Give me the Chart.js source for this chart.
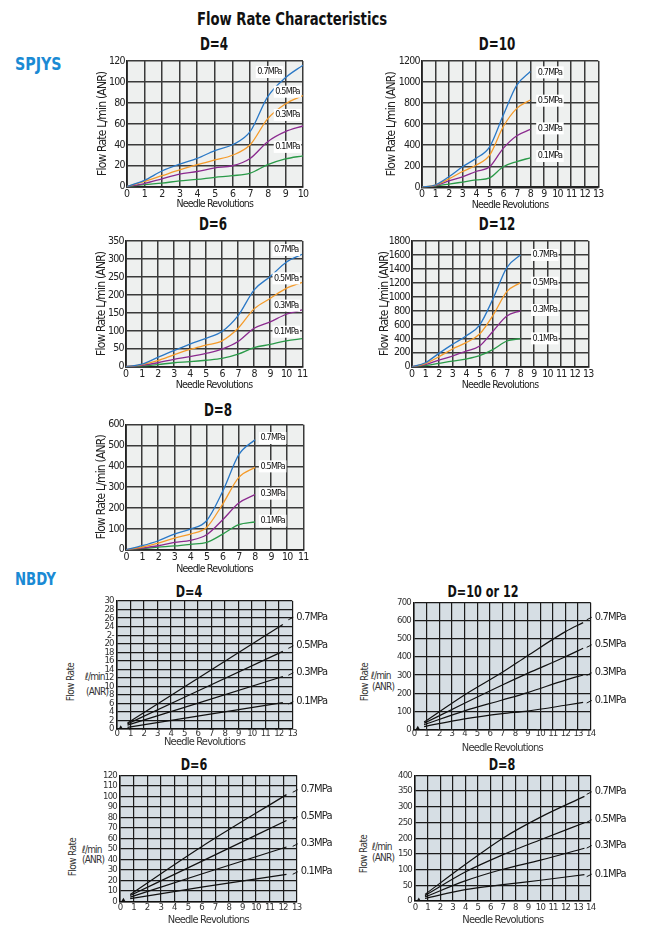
<!DOCTYPE html>
<html><head><meta charset="utf-8">
<script src="https://cdn.jsdelivr.net/npm/chart.js@4.4.0/dist/chart.umd.min.js"></script>
<style>
body{margin:0;width:646px;height:930px;background:#fff;position:relative;overflow:hidden;
 font-family:'Liberation Sans Narrow','DejaVu Sans Condensed','Arial Narrow',sans-serif;}
canvas{position:absolute;}
.c{position:absolute;white-space:nowrap;transform:translate(-50%,-50%) scaleX(0.78);font-weight:bold;color:#111;}
.l{position:absolute;white-space:nowrap;transform-origin:0 50%;font-weight:bold;color:#1a8ad4;font-size:18px;}
.r{position:absolute;white-space:nowrap;transform:translate(-50%,-50%) rotate(-90deg);font-size:10px;color:#333;letter-spacing:-0.6px;}
.u{position:absolute;white-space:nowrap;transform:translate(0,-50%);font-size:10px;color:#333;letter-spacing:-0.8px;}
</style></head><body>
<div class="c" style="left:292px;top:18px;font-size:18px;transform:translate(-50%,-50%) scaleX(0.815);">Flow Rate Characteristics</div>
<div class="l" style="left:15px;top:63px;transform:translate(0,-50%) scaleX(0.88);">SPJYS</div>
<div class="l" style="left:15px;top:578px;transform:translate(0,-50%) scaleX(0.82);">NBDY</div>

<div class="c" style="left:214px;top:44px;font-size:17px;">D=4</div>
<div class="c" style="left:497px;top:44px;font-size:17px;">D=10</div>
<div class="c" style="left:213px;top:224px;font-size:17px;">D=6</div>
<div class="c" style="left:497px;top:224px;font-size:17px;">D=12</div>
<div class="c" style="left:218px;top:410px;font-size:17px;">D=8</div>

<div class="c" style="left:189px;top:591px;font-size:16px;">D=4</div>
<div class="c" style="left:483px;top:591px;font-size:16px;">D=10 or 12</div>
<div class="c" style="left:194px;top:764px;font-size:16px;">D=6</div>
<div class="c" style="left:502px;top:764px;font-size:16px;">D=8</div>

<div class="r" style="left:70px;top:682px;">Flow Rate</div>
<div class="u" style="left:85px;top:676px;">ℓ/min</div>
<div class="u" style="left:86px;top:691px;">(ANR)</div>
<div class="r" style="left:364px;top:682px;">Flow Rate</div>
<div class="u" style="left:371px;top:675px;">ℓ/min</div>
<div class="u" style="left:372px;top:686px;">(ANR)</div>
<div class="r" style="left:72px;top:857px;">Flow Rate</div>
<div class="u" style="left:82px;top:849px;">ℓ/min</div>
<div class="u" style="left:82px;top:859px;">(ANR)</div>
<div class="r" style="left:363px;top:854px;">Flow Rate</div>
<div class="u" style="left:372px;top:846px;">ℓ/min</div>
<div class="u" style="left:372px;top:857px;">(ANR)</div>

<script>
// ---------- DATA ----------
const pressures = ['0.7MPa', '0.5MPa', '0.3MPa', '0.1MPa'];

// SPJYS D=4
const spD4_x   = [0, 1, 2, 3, 4, 5, 6, 7, 8, 9, 10];
const spD4_p07 = [0, 6, 15, 21.5, 27, 34.5, 40, 52.5, 86, 104, 116];
const spD4_p05 = [0, 5, 10.5, 16, 21, 25.5, 30, 40, 65, 79, 87];
const spD4_p03 = [0, 3, 7.5, 12, 14.5, 18, 20, 27, 43, 52.5, 58];
const spD4_p01 = [0, 2, 3.5, 5.5, 7, 9, 10.5, 13, 21, 26.5, 29.5];
const spD4_tagX = [8.1, 9.12, 9.12, 9.12];
const spD4_tagY = [109.5, 90.7, 68.5, 38];

// SPJYS D=10
const spD10_x   = [0, 1, 2, 3, 4, 5, 6, 7, 8];
const spD10_p07 = [0, 22, 100, 195, 275, 385, 685, 970, 1100];
const spD10_p05 = [0, 20, 80, 150, 210, 305, 575, 750, 830];
const spD10_p03 = [0, 15, 60, 100, 150, 195, 370, 490, 550];
const spD10_p01 = [0, 12, 30, 50, 70, 90, 195, 245, 280];
const spD10_tagX = [9.44, 9.44, 9.44, 9.44];
const spD10_tagY = [1092, 823, 560, 297];

// SPJYS D=6
const spD6_x   = [0, 1, 2, 3, 4, 5, 6, 7, 8, 9, 10, 11];
const spD6_p07 = [0, 7, 26, 45, 63, 79, 98, 142, 214, 251, 291, 313];
const spD6_p05 = [0, 6, 17, 33, 48, 60, 72, 107, 161, 190, 218, 235];
const spD6_p03 = [0, 4, 11, 20.5, 28, 37, 49, 70, 107, 125, 146, 158];
const spD6_p01 = [0, 2, 6, 11, 14, 18, 23, 35, 53, 62, 72, 78];
const spD6_tagX = [10, 10, 10, 10];
const spD6_tagY = [325, 246, 170, 97.5];

// SPJYS D=12
const spD12_x   = [0, 1, 2, 3, 4, 5, 6, 7, 8];
const spD12_p07 = [0, 57, 191, 320, 440, 597, 979, 1420, 1600];
const spD12_p05 = [0, 45, 143, 253, 344, 468, 740, 1075, 1203];
const spD12_p03 = [0, 30, 95, 153, 224, 296, 511, 726, 800];
const spD12_p01 = [0, 15, 48, 81, 110, 158, 248, 368, 401];
const spD12_tagX = [9.8, 9.8, 9.8, 9.8];
const spD12_tagY = [1600, 1203, 812, 406];

// SPJYS D=8
const spD8_x   = [0, 1, 2, 3, 4, 5, 6, 7, 8];
const spD8_p07 = [0, 19, 43, 75, 99, 139, 280, 456, 528];
const spD8_p05 = [0, 13, 32, 56, 75, 107, 219, 347, 395];
const spD8_p03 = [0, 8, 19, 35, 45, 72, 144, 224, 264];
const spD8_p01 = [0, 5, 12, 18, 26, 35, 75, 120, 133];
const spD8_tagX = [9.1, 9.1, 9.1, 9.1];
const spD8_tagY = [536, 400, 269, 139];

// NBDY D=4
const nbD4_x   = [0.8, 12.3];
const nbD4_p07 = [1.4, 24.5];
const nbD4_p05 = [1.2, 18.2];
const nbD4_p03 = [0.9, 12.3];
const nbD4_p01 = [0.4, 6.2];
const nbD4_tagY = [26.3, 19.6, 13.3, 6.55];
const nbD4_yTicks = ['0','2','4','6','8','10','12','14','16','18','20','2-','24','26','28','30'];
const nbD4_mark = [0.3, 0.3];

// NBDY D=10 or 12
const nbD10_x   = [0.8, 4, 7, 9, 12, 13.4];
const nbD10_p07 = [40, 190, 315, 407, 540, 590];
const nbD10_p05 = [33, 144, 245, 309, 401, 448];
const nbD10_p03 = [25, 102, 162, 203, 272, 300];
const nbD10_p01 = [15, 58, 87, 101, 133, 149];
const nbD10_tagY = [622, 470, 315, 162];
const nbD10_mark = [0.3, 6];

// NBDY D=6
const nbD6_x   = [0.75, 6, 12.25];
const nbD6_p07 = [6.5, 52, 101.6];
const nbD6_p05 = [5.5, 38, 77];
const nbD6_p03 = [4, 26, 51.7];
const nbD6_p01 = [2.5, 13.5, 25.7];
const nbD6_tagY = [106.7, 81, 55.2, 28.6];
const nbD6_mark = [0.25, 1];

// NBDY D=8
const nbD8_x   = [0.8, 4, 7, 10, 13.5];
const nbD8_p07 = [21, 116, 200, 267, 333];
const nbD8_p05 = [17, 92, 147, 195, 249];
const nbD8_p03 = [13, 64, 101, 130, 168];
const nbD8_p01 = [8, 36, 52, 66, 84];
const nbD8_tagY = [349, 260, 178, 87];
const nbD8_mark = [0.3, 3];

// ---------- RENDERING ----------
const NARROW = "'Liberation Sans Narrow','DejaVu Sans Condensed','Arial Narrow',sans-serif";
const spColors = ['#2a78c6', '#f59b2a', '#8b2a8f', '#2a9a48'];

const bgPlugin = {
  id: 'bg',
  beforeDraw(chart, args, o) {
    const {ctx, chartArea: a} = chart;
    ctx.letterSpacing = o.spacing;
    ctx.save(); ctx.fillStyle = o.color;
    ctx.fillRect(a.left, a.top, a.right - a.left, a.bottom - a.top);
    ctx.restore();
  }
};
const tagPlugin = {
  id: 'tags',
  afterDatasetsDraw(chart, args, o) {
    const {ctx, scales: {x, y}, chartArea: a} = chart;
    ctx.save();
    ctx.font = o.font;
    o.items.forEach(it => {
      const py = y.getPixelForValue(it.y);
      if (o.mode === 'box') {
        const px = x.getPixelForValue(it.x);
        const w = ctx.measureText(it.text).width;
        ctx.fillStyle = '#fff';
        ctx.fillRect(px - w / 2 - 1.5, py - 6, w + 3, 12);
        ctx.fillStyle = '#111'; ctx.textAlign = 'center'; ctx.textBaseline = 'middle';
        ctx.fillText(it.text, px, py);
      } else {
        ctx.strokeStyle = '#111'; ctx.lineWidth = 1;
        ctx.beginPath(); ctx.moveTo(a.right - 4, py + 3); ctx.lineTo(a.right + 1, py + 0.5); ctx.stroke();
        ctx.fillStyle = '#222'; ctx.textAlign = 'left'; ctx.textBaseline = 'middle';
        ctx.fillText(it.text, a.right + o.gap, py);
      }
    });
    ctx.restore();
  }
};

function pts(xs, ys) { return xs.map((x, i) => ({x, y: ys[i]})); }

function makeChart(s) {
  const [l, t, r, b] = s.plot;
  const titleLH = s.titleSize * 1.2;
  const yTitleLH = s.yTitleSize * 1.2;
  const axisLeft = s.yTitleX != null ? s.yTitleX - yTitleLH / 2 : l - 30;
  const cl = Math.floor(axisLeft - 1);
  const ct = Math.floor(t - 10);
  const xBottom = s.xTitleY + titleLH / 2;
  const W = Math.ceil(r + s.padR) - cl;
  const H = Math.ceil(xBottom + 2) - ct;
  const padLeft = axisLeft - cl;
  const padTop = t - ct;
  const padRight = W - (r - cl);
  const padBottom = H - (xBottom - ct);
  const yW = l - axisLeft;
  const xH = xBottom - b;

  const cv = document.createElement('canvas');
  cv.width = W; cv.height = H;
  cv.style.left = cl + 'px'; cv.style.top = ct + 'px';
  cv.style.width = W + 'px'; cv.style.height = H + 'px';
  document.body.appendChild(cv);

  const tickFont = {family: NARROW, size: s.tickSize, lineHeight: 1.2};
  const titleFont = {family: NARROW, size: s.titleSize, lineHeight: 1.2};
  const yTitleFont = {family: NARROW, size: s.yTitleSize, lineHeight: 1.2};
  new Chart(cv, {
    type: 'scatter',
    data: {datasets: s.datasets},
    options: {
      responsive: false, animation: false, devicePixelRatio: 1,
      layout: {padding: {left: padLeft, top: padTop, right: padRight, bottom: padBottom}},
      plugins: {legend: {display: false}, tooltip: {enabled: false},
        bg: {color: s.bg, spacing: s.spacing},
        tags: {items: s.tags, mode: s.tagMode, font: s.tagFont, gap: 4}},
      scales: {
        x: {type: 'linear', min: 0, max: s.xMax,
          ticks: {stepSize: 1, autoSkip: false, maxRotation: 0, font: tickFont, color: s.tickColor,
            padding: s.xTickPad, callback: v => String(v)},
          grid: {color: s.gridColor, lineWidth: s.gridW, drawTicks: false},
          border: {display: true, color: s.borderColor, width: s.gridW + 0.3},
          title: {display: true, text: 'Needle Revolutions', font: titleFont, color: s.titleColor, padding: 0},
          afterFit(a) { a.height = xH; a.paddingLeft = 0; a.paddingRight = 0; }
        },
        y: {type: 'linear', min: 0, max: s.yMax,
          ticks: {stepSize: s.yStep, autoSkip: false, font: tickFont, color: s.tickColor, padding: s.yTickPad,
            callback: (v, i) => s.yTickLabels ? s.yTickLabels[i] : String(v)},
          grid: {color: s.gridColor, lineWidth: s.gridW, drawTicks: false},
          border: {display: true, color: s.borderColor, width: s.gridW + 0.3},
          title: {display: s.yTitle != null, text: s.yTitle || '', font: yTitleFont, color: s.titleColor, padding: 0},
          afterFit(a) { a.width = yW; a.paddingTop = 0; a.paddingBottom = 0; }
        }
      }
    },
    plugins: [bgPlugin, tagPlugin]
  });
}

function spSets(xs, series) {
  return series.map((ys, i) => ({
    data: pts(xs, ys), showLine: true, pointRadius: 0, borderColor: spColors[i],
    borderWidth: 1.3, cubicInterpolationMode: 'monotone', fill: false
  }));
}
function spTags(tx, ty) { return pressures.map((p, i) => ({text: p, x: tx[i], y: ty[i]})); }

function nbSets(xs, series, mark) {
  const sets = series.map(ys => ({
    data: pts(xs, ys), showLine: true, pointRadius: 0, borderColor: '#111',
    borderWidth: 1.2, cubicInterpolationMode: 'monotone', fill: false
  }));
  sets.push({data: [{x: mark[0], y: mark[1]}], showLine: false, pointStyle: 'triangle',
    pointRadius: 2.5, backgroundColor: '#111', borderColor: '#111', borderWidth: 0});
  return sets;
}
function nbTags(ty) { return pressures.map((p, i) => ({text: p, y: ty[i]})); }

const spBase = {bg: '#eef0ef', gridColor: '#3a3a3a', borderColor: '#222', gridW: 1.5,
  tickColor: '#222', titleColor: '#222', tickSize: 10.5, titleSize: 10.5, yTitleSize: 12,
  xTickPad: 1, yTickPad: 2, spacing: '-0.8px',
  padR: 10, tagMode: 'box', tagFont: "9px " + NARROW, yTitle: 'Flow Rate L/min (ANR)'};
const nbBase = {bg: '#d6dee4', gridColor: '#1a1a1a', borderColor: '#111', gridW: 1.2,
  tickColor: '#333', titleColor: '#333', tickSize: 9.5, titleSize: 11, yTitleSize: 10,
  xTickPad: -1, yTickPad: 3, spacing: '-0.8px',
  padR: 42, tagMode: 'out', tagFont: "11px " + NARROW, yTitle: null};

makeChart(Object.assign({}, spBase, {plot: [126.7, 61, 303, 186.7], yTitleX: 103.3, xTitleY: 204,
  xMax: 10, yMax: 120, yStep: 20,
  datasets: spSets(spD4_x, [spD4_p07, spD4_p05, spD4_p03, spD4_p01]), tags: spTags(spD4_tagX, spD4_tagY)}));
makeChart(Object.assign({}, spBase, {plot: [421.7, 61, 598.3, 187.3], yTitleX: 391.7, xTitleY: 205,
  xMax: 13, yMax: 1200, yStep: 200,
  datasets: spSets(spD10_x, [spD10_p07, spD10_p05, spD10_p03, spD10_p01]), tags: spTags(spD10_tagX, spD10_tagY)}));
makeChart(Object.assign({}, spBase, {plot: [125.7, 241, 302.3, 366.7], yTitleX: 101.7, xTitleY: 385,
  xMax: 11, yMax: 350, yStep: 50,
  datasets: spSets(spD6_x, [spD6_p07, spD6_p05, spD6_p03, spD6_p01]), tags: spTags(spD6_tagX, spD6_tagY)}));
makeChart(Object.assign({}, spBase, {plot: [411.7, 241, 588.3, 366.7], yTitleX: 385, xTitleY: 385,
  xMax: 13, yMax: 1800, yStep: 200,
  datasets: spSets(spD12_x, [spD12_p07, spD12_p05, spD12_p03, spD12_p01]), tags: spTags(spD12_tagX, spD12_tagY)}));
makeChart(Object.assign({}, spBase, {plot: [126, 424.7, 303.3, 549.7], yTitleX: 101.7, xTitleY: 569.7,
  xMax: 11, yMax: 600, yStep: 100,
  datasets: spSets(spD8_x, [spD8_p07, spD8_p05, spD8_p03, spD8_p01]), tags: spTags(spD8_tagX, spD8_tagY)}));

makeChart(Object.assign({}, nbBase, {plot: [116.7, 601, 292.3, 729], xTitleY: 742, xMax: 13, yMax: 30, yStep: 2,
  yTickLabels: nbD4_yTicks, xTickPad: -1.5,
  datasets: nbSets(nbD4_x, [nbD4_p07, nbD4_p05, nbD4_p03, nbD4_p01], nbD4_mark), tags: nbTags(nbD4_tagY)}));
makeChart(Object.assign({}, nbBase, {plot: [414, 602.7, 590.7, 729.3], xTitleY: 747.7, xMax: 14, yMax: 700, yStep: 100,
  xTickPad: -1,
  datasets: nbSets(nbD10_x, [nbD10_p07, nbD10_p05, nbD10_p03, nbD10_p01], nbD10_mark), tags: nbTags(nbD10_tagY)}));
makeChart(Object.assign({}, nbBase, {plot: [120, 775.3, 296.7, 901.3], xTitleY: 920.3, xMax: 13, yMax: 120, yStep: 10,
  xTickPad: 1,
  datasets: nbSets(nbD6_x, [nbD6_p07, nbD6_p05, nbD6_p03, nbD6_p01], nbD6_mark), tags: nbTags(nbD6_tagY)}));
makeChart(Object.assign({}, nbBase, {plot: [415, 775.3, 590.7, 901], xTitleY: 919.7, xMax: 14, yMax: 400, yStep: 50,
  xTickPad: 0.5,
  datasets: nbSets(nbD8_x, [nbD8_p07, nbD8_p05, nbD8_p03, nbD8_p01], nbD8_mark), tags: nbTags(nbD8_tagY)}));
</script>
</body></html>
